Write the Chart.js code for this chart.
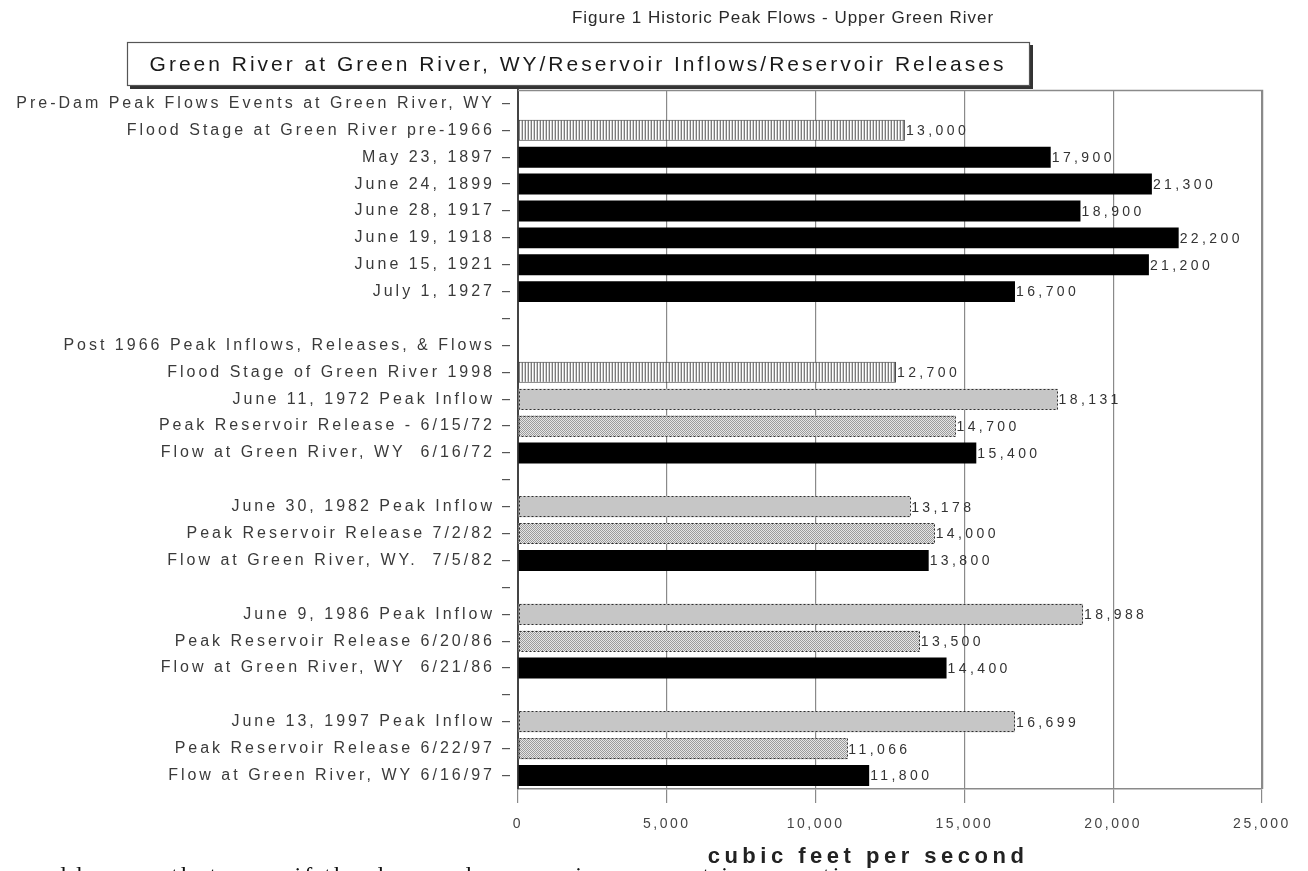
<!DOCTYPE html>
<html><head><meta charset="utf-8">
<script src="https://cdn.jsdelivr.net/npm/chart.js@4.4.1/dist/chart.umd.min.js"></script>
<style>
html,body{margin:0;padding:0;background:#fff;overflow:hidden;width:1308px;height:871px;}
#wrap{position:relative;width:1308px;height:871px;overflow:hidden;background:#fff;}
canvas{position:absolute;left:0;top:0;}
#note{position:absolute;left:10px;top:861px;font-family:"Liberation Serif",serif;font-size:24px;line-height:28px;color:#111;white-space:nowrap;letter-spacing:3px;}
</style></head><body>
<div id="wrap"><canvas id="c" width="1308" height="871"></canvas><div id="note">would occur that even if the dam and reservoir were not in operation</div></div>
<script>
const chartTitle = "Figure 1 Historic Peak Flows - Upper Green River";
const chartSubtitle = "Green River at Green River, WY/Reservoir Inflows/Reservoir Releases";
const axisTitle = "cubic feet per second";

const categories = [
  "Pre-Dam Peak Flows Events at Green River, WY",
  "Flood Stage at Green River pre-1966",
  "May 23, 1897",
  "June 24, 1899",
  "June 28, 1917",
  "June 19, 1918",
  "June 15, 1921",
  "July 1, 1927",
  "",
  "Post 1966 Peak Inflows, Releases, & Flows",
  "Flood Stage of Green River 1998",
  "June 11, 1972 Peak Inflow",
  "Peak Reservoir Release - 6/15/72",
  "Flow at Green River, WY  6/16/72",
  "",
  "June 30, 1982 Peak Inflow",
  "Peak Reservoir Release 7/2/82",
  "Flow at Green River, WY.  7/5/82",
  "",
  "June 9, 1986 Peak Inflow",
  "Peak Reservoir Release 6/20/86",
  "Flow at Green River, WY  6/21/86",
  "",
  "June 13, 1997 Peak Inflow",
  "Peak Reservoir Release 6/22/97",
  "Flow at Green River, WY 6/16/97"
];
const floodStage = [null,13000,null,null,null,null,null,null,null,null,12700,null,null,null,null,null,null,null,null,null,null,null,null,null,null,null];
const peakInflow = [null,null,null,null,null,null,null,null,null,null,null,18131,null,null,null,13178,null,null,null,18988,null,null,null,16699,null,null];
const reservoirRelease = [null,null,null,null,null,null,null,null,null,null,null,null,14700,null,null,null,14000,null,null,null,13500,null,null,null,11066,null];
const riverFlow = [null,null,17900,21300,18900,22200,21200,16700,null,null,null,null,null,15400,null,null,null,13800,null,null,null,14400,null,null,null,11800];
const xTicks = [0,5000,10000,15000,20000,25000];

function makePattern(w,h,draw){
  const c=document.createElement('canvas'); c.width=w; c.height=h;
  const g=c.getContext('2d'); draw(g);
  return document.getElementById('c').getContext('2d').createPattern(c,'repeat');
}
const stripePattern = makePattern(3,1,g=>{
  g.fillStyle='#7c7c7c';g.fillRect(0,0,1,1);
  g.fillStyle='#ffffff';g.fillRect(1,0,1,1);
  g.fillStyle='#cfcfcf';g.fillRect(2,0,1,1);
});
const dotPattern = makePattern(2,2,g=>{
  g.fillStyle='#e6e6e6';g.fillRect(0,0,2,2);
  g.fillStyle='#9c9c9c';g.fillRect(0,0,1,1);g.fillRect(1,1,1,1);
});

const tickLS = {x:'2.5px', y:'3px'};
const titleLS = {x:'4.5px'};
const titleShift = {x:-22};
const dashedBorderSets = [1,2];
const spacingPlugin = {
  id:'spacing',
  afterLayout(chart){
    Object.values(chart.scales).forEach(s=>{
      if (s._wrappedLS) return;
      s._wrappedLS = true;
      const dl = s.drawLabels.bind(s), dt = s.drawTitle.bind(s);
      s.drawLabels = function(a){ const c=chart.ctx; c.save(); c.letterSpacing = tickLS[s.id]||'0px'; dl(a); c.restore(); };
      s.drawTitle = function(){ const c=chart.ctx; c.save(); c.letterSpacing = titleLS[s.id]||'0px'; c.translate(titleShift[s.id]||0,0); dt(); c.restore(); };
    });
  }
};

const decorPlugin = {
  id:'decor',
  afterDatasetsDraw(chart){
    const ctx=chart.ctx, a=chart.chartArea;
    // dashed outlines for inflow / release bars
    ctx.save();
    ctx.strokeStyle='#2e2e2e'; ctx.lineWidth=1; ctx.setLineDash([2,2]);
    dashedBorderSets.forEach(i=>{
      const meta=chart.getDatasetMeta(i);
      meta.data.forEach((el,j)=>{
        if(chart.data.datasets[i].data[j]==null) return;
        const l=Math.min(el.base,el.x), r=Math.max(el.base,el.x);
        const t=el.y-el.height/2;
        ctx.strokeRect(Math.round(l)+0.5, Math.round(t)+0.5, Math.round(r-l)-1, Math.round(el.height)-1);
      });
    });
    ctx.restore();
    // value labels
    ctx.save();
    ctx.font='14px "Liberation Sans", Arial, sans-serif';
    ctx.letterSpacing='3.4px';
    ctx.fillStyle='#333';
    ctx.textAlign='left'; ctx.textBaseline='middle';
    chart.data.datasets.forEach((ds,i)=>{
      const meta=chart.getDatasetMeta(i);
      meta.data.forEach((el,j)=>{
        const v=ds.data[j]; if(v==null) return;
        ctx.fillText(v.toLocaleString('en-US'), el.x+1, el.y+1);
      });
    });
    ctx.restore();
    // plot frame (top and right)
    ctx.save();
    ctx.strokeStyle='#8a8a8a'; ctx.lineWidth=1.5;
    ctx.beginPath();
    ctx.moveTo(a.left, a.top+0.5); ctx.lineTo(a.right+0.5, a.top+0.5); ctx.lineTo(a.right+0.5, a.bottom);
    ctx.stroke();
    ctx.restore();
  },
  afterDraw(chart){
    const ctx=chart.ctx;
    ctx.save();
    ctx.font='17px "Liberation Sans", Arial, sans-serif';
    ctx.letterSpacing='1px';
    ctx.fillStyle='#2a2a2a'; ctx.textAlign='center'; ctx.textBaseline='middle';
    ctx.fillText(chartTitle, 783, 18);
    ctx.fillStyle='#333';
    ctx.fillRect(130, 45, 903, 44);
    ctx.fillStyle='#fff';
    ctx.fillRect(127, 42, 903, 44);
    ctx.strokeStyle='#555'; ctx.lineWidth=1.2;
    ctx.strokeRect(127.5, 42.5, 902, 43);
    ctx.font='21px "Liberation Sans", Arial, sans-serif';
    ctx.letterSpacing='3px';
    ctx.fillStyle='#1a1a1a';
    ctx.fillText(chartSubtitle, 578, 65);
    ctx.restore();
  }
};

const common = {barPercentage:0.78, categoryPercentage:1.0, borderSkipped:false};
new Chart(document.getElementById('c'), {
  type:'bar',
  data:{
    labels:categories,
    datasets:[
      Object.assign({label:'Flood stage', data:floodStage, backgroundColor:stripePattern, borderColor:'#3a3a3a', borderWidth:1}, common),
      Object.assign({label:'Peak inflow', data:peakInflow, backgroundColor:'#c6c6c6', borderColor:'#c6c6c6', borderWidth:0}, common),
      Object.assign({label:'Peak reservoir release', data:reservoirRelease, backgroundColor:dotPattern, borderColor:'#4a4a4a', borderWidth:0}, common),
      Object.assign({label:'Flow at Green River, WY', data:riverFlow, backgroundColor:'#000', borderColor:'#000', borderWidth:0}, common)
    ]
  },
  options:{
    indexAxis:'y',
    responsive:false,
    animation:false,
    devicePixelRatio:1,
    layout:{padding:{top:90,right:46,left:0,bottom:0}},
    plugins:{legend:{display:false},title:{display:false},tooltip:{enabled:false}},
    scales:{
      x:{
        type:'linear', position:'bottom', stacked:true,
        min:xTicks[0], max:xTicks[xTicks.length-1],
        afterBuildTicks(s){ s.ticks = xTicks.map(v=>({value:v})); },
        afterFit(s){ s.height = 82; },
        grid:{color:'#8a8a8a', lineWidth:1.2, tickLength:14, drawTicks:true},
        border:{display:true, color:'#8a8a8a', width:1.5},
        ticks:{color:'#444', padding:13, font:{family:'"Liberation Sans", Arial, sans-serif', size:14},
          callback:v=>Number(v).toLocaleString('en-US')},
        title:{display:true, text:axisTitle, color:'#222', padding:{top:0,bottom:1},
          font:{family:'"Liberation Sans", Arial, sans-serif', size:22, weight:'bold'}}
      },
      y:{
        type:'category', stacked:true,
        afterFit(s){ s.width = 518; },
        grid:{offset:false, drawOnChartArea:false, color:'#555', tickLength:16, lineWidth:1.2, tickBorderDash:[8,30]},
        border:{display:true, color:'#444', width:2},
        ticks:{autoSkip:false, color:'#3a3a3a', padding:7,
          font:{family:'"Liberation Sans", Arial, sans-serif', size:16}}
      }
    }
  },
  plugins:[spacingPlugin, decorPlugin]
});
</script>
</body></html>
